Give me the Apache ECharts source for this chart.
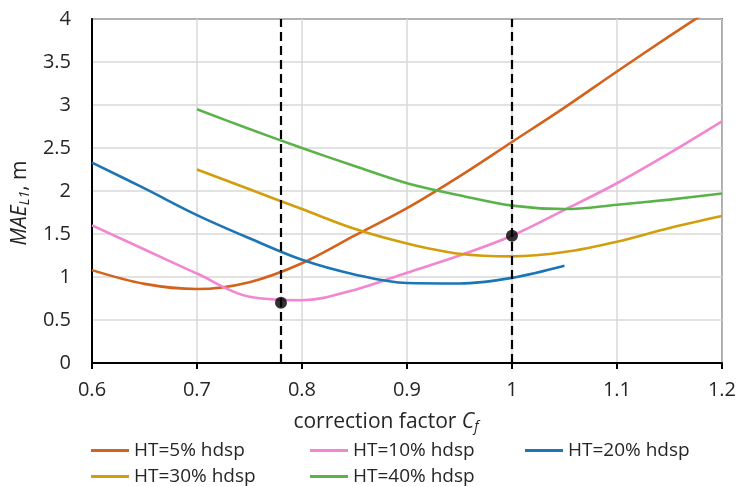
<!DOCTYPE html>
<html>
<head>
<meta charset="utf-8">
<script src="https://cdn.jsdelivr.net/npm/echarts@6/dist/echarts.min.js"></script>
<style>
  html, body { margin: 0; padding: 0; background: #fff; }
  #chart { width: 739px; height: 487px; }
</style>
</head>
<body>
<div id="chart"></div>
<script>
// correction factor samples
const cfAll = [0.6, 0.65, 0.7, 0.75, 0.8, 0.85, 0.9, 0.95, 1.0, 1.05, 1.1, 1.15, 1.2]
const cfHT20 = [0.6, 0.65, 0.7, 0.75, 0.8, 0.85, 0.9, 0.95, 1.0, 1.05]
const cfFrom07 = [0.7, 0.75, 0.8, 0.85, 0.9, 0.95, 1.0, 1.05, 1.1, 1.15, 1.2]

// MAE_L1 values, m
const ht5 = [1.08, 0.92, 0.86, 0.94, 1.16, 1.48, 1.80, 2.17, 2.57, 2.97, 3.39, 3.80, 4.20]
const ht10 = [1.60, 1.32, 1.04, 0.77, 0.73, 0.85, 1.05, 1.25, 1.48, 1.78, 2.09, 2.44, 2.81]
const ht20 = [2.33, 2.03, 1.72, 1.45, 1.20, 1.03, 0.93, 0.925, 0.99, 1.13]
const ht30 = [2.25, 2.02, 1.79, 1.56, 1.39, 1.27, 1.24, 1.29, 1.41, 1.57, 1.71]
const ht40 = [2.95, 2.72, 2.50, 2.29, 2.09, 1.95, 1.83, 1.79, 1.84, 1.90, 1.97]

const seriesNames = ['HT=5% hdsp', 'HT=10% hdsp', 'HT=20% hdsp', 'HT=30% hdsp', 'HT=40% hdsp']
const colors = ['#D4621C', '#F286D0', '#1C76B5', '#D29E0E', '#5AB348']

// marked points and vertical guides
const markedCf = [0.78, 1.0]
const markedMae = [0.70, 1.48]

const font = 'Open Sans'
const textColor = '#262626'

const pairs = (xs, ys) => xs.map((x, i) => [x, ys[i]])

const lineSeries = (name, xs, ys, color, extra) => ({
  name,
  type: 'line',
  data: pairs(xs, ys),
  smooth: 0.35,
  showSymbol: false,
  symbol: 'none',
  clip: true,
  lineStyle: { color, width: 2.6 },
  itemStyle: { color },
  z: 3,
  ...extra
})

const titleRich = {
  t: { fontFamily: font, fontSize: 21, color: textColor, lineHeight: 24 },
  i: { fontFamily: font, fontSize: 21, fontStyle: 'italic', color: textColor, lineHeight: 24 },
  s: { fontFamily: font, fontSize: 14, fontStyle: 'italic', color: textColor, lineHeight: 10, verticalAlign: 'bottom' }
}

const legendBase = {
  orient: 'vertical',
  itemWidth: 38,
  itemHeight: 3,
  itemGap: 7,
  icon: 'rect',
  padding: 0,
  textStyle: { fontFamily: font, fontSize: 19, color: textColor }
}

const chart = echarts.init(document.getElementById('chart'))

chart.setOption({
  animation: false,
  backgroundColor: '#fff',
  textStyle: { fontFamily: font },
  grid: {
    left: 92,
    right: 16,
    top: 19,
    bottom: 124,
    show: true,
    borderColor: '#000',
    borderWidth: 1.5,
    containLabel: false
  },
  legend: [
    { ...legendBase, left: 91, top: 441, data: [seriesNames[0], seriesNames[3]] },
    { ...legendBase, left: 310, top: 441, data: [seriesNames[1], seriesNames[4]] },
    { ...legendBase, left: 525, top: 441, data: [seriesNames[2]] }
  ],
  xAxis: {
    type: 'value',
    min: 0.6,
    max: 1.2,
    interval: 0.1,
    name: '{t|correction factor }{i|C}{s|f}',
    nameLocation: 'middle',
    nameGap: 47,
    nameTextStyle: { padding: [0, 42, 0, 0], rich: titleRich },
    axisLine: { show: true, onZero: false, lineStyle: { color: '#000', width: 2 } },
    axisTick: { show: true, inside: false, length: 6, lineStyle: { color: '#000', width: 2 } },
    axisLabel: { fontFamily: font, fontSize: 20, color: textColor, margin: 17 },
    splitLine: { show: true, lineStyle: { color: '#d9d9d9', width: 1.5 } }
  },
  yAxis: {
    type: 'value',
    min: 0,
    max: 4,
    interval: 0.5,
    name: '{i|MAE}{s|L1}{t|, m}',
    nameLocation: 'middle',
    nameRotate: 90,
    nameGap: 52,
    nameTextStyle: { padding: [0, 24, 0, 0], rich: titleRich },
    axisLine: { show: true, lineStyle: { color: '#000', width: 2 } },
    axisTick: { show: false },
    axisLabel: { fontFamily: font, fontSize: 20, color: textColor, margin: 21 },
    splitLine: { show: true, lineStyle: { color: '#d9d9d9', width: 1.5 } }
  },
  series: [
    lineSeries(seriesNames[0], cfAll, ht5, colors[0], {
      markLine: {
        silent: true,
        symbol: 'none',
        label: { show: false },
        lineStyle: { color: '#000', type: [9, 5], width: 2.2 },
        data: markedCf.map(x => ({ xAxis: x }))
      }
    }),
    lineSeries(seriesNames[1], cfAll, ht10, colors[1]),
    lineSeries(seriesNames[2], cfHT20, ht20, colors[2]),
    lineSeries(seriesNames[3], cfFrom07, ht30, colors[3]),
    lineSeries(seriesNames[4], cfFrom07, ht40, colors[4]),
    {
      name: 'marked',
      type: 'scatter',
      data: pairs(markedCf, markedMae),
      symbol: 'circle',
      symbolSize: 12,
      itemStyle: { color: '#000' },
      z: 5
    }
  ]
})
</script>
</body>
</html>
